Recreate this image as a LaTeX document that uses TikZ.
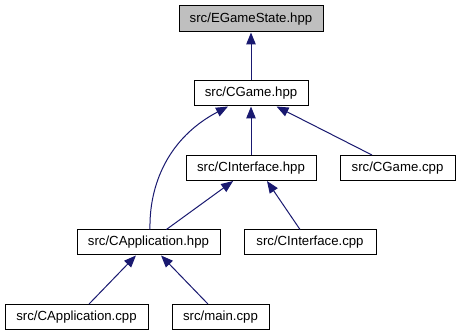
\documentclass[tikz,border=0pt]{standalone}
\usepackage{fontspec}
\setmainfont{Liberation Sans}
\usetikzlibrary{arrows.meta}
\definecolor{edgeblue}{RGB}{25,25,112}
\definecolor{rootgray}{RGB}{191,191,191}
\begin{document}
\begin{tikzpicture}[x=1pt,y=-1pt,
  filebox/.style={draw=black, line width=1pt, fill=white, inner sep=0pt,
    minimum height=25pt, font=\fontsize{13.2}{15}\selectfont},
  dep/.style={draw=edgeblue, line width=1pt,
    -{Triangle[length=12pt,width=9.5pt]}}]
\useasboundingbox (0,0) rectangle (461,336);
\fill[white] (0,0) rectangle (461,336);

% files, one row per include depth
\node[filebox, fill=rootgray, minimum width=144pt, minimum height=26pt] (egs) at (251,19) {src/EGameState.hpp};
\node[filebox, minimum width=114pt] (cgh) at (251,93.5) {src/CGame.hpp};
\node[filebox, minimum width=130pt] (cih) at (251,168) {src/CInterface.hpp};
\node[filebox, minimum width=115pt] (cgc) at (397.5,168) {src/CGame.cpp};
\node[filebox, minimum width=143pt] (cah) at (148.5,242.5) {src/CApplication.hpp};
\node[filebox, minimum width=132pt] (cic) at (310,242.5) {src/CInterface.cpp};
\node[filebox, minimum width=143pt] (cac) at (76.5,317) {src/CApplication.cpp};
\node[filebox, minimum width=97pt] (mainc) at (220.5,317) {src/main.cpp};

% include dependencies (arrow points to the included file)
\draw[dep] (cgh) -- (egs);
\draw[dep] (cih) -- (cgh);
\draw[dep] (cgc) -- (cgh);
\draw[dep] ([xshift=1.5pt]cah.north) .. controls (149,185) and (168,138) .. ([xshift=-23pt]cgh.south);
\draw[dep] (cah) -- (cih);
\draw[dep] ([xshift=-10pt]cic.north) -- ([xshift=16pt]cih.south);
\draw[dep] (cac) -- (cah);
\draw[dep] (mainc) -- (cah);
\end{tikzpicture}
\end{document}
